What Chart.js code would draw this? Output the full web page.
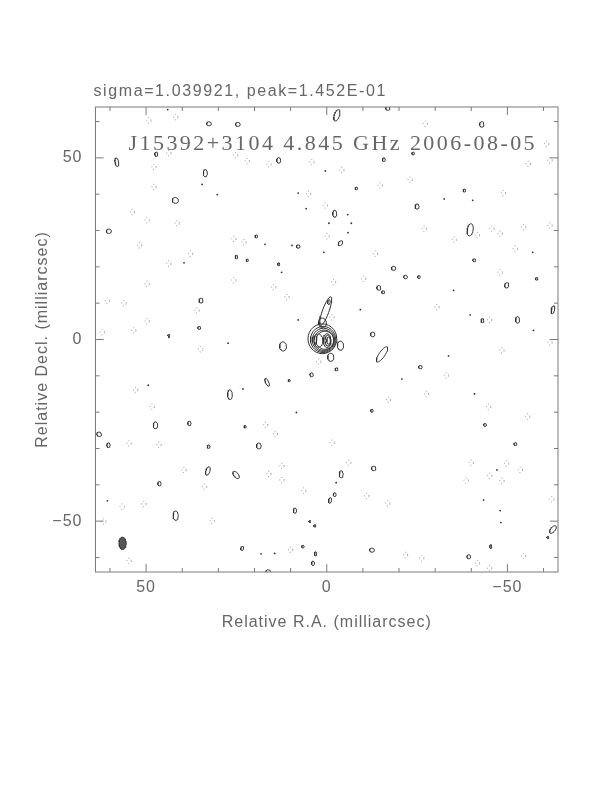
<!DOCTYPE html>
<html>
<head>
<meta charset="utf-8">
<script src="https://cdn.jsdelivr.net/npm/chart.js@4/dist/chart.umd.min.js"></script>
<style>
html,body{margin:0;padding:0;background:#fff;}
#c{display:block;}
</style>
</head>
<body>
<canvas id="c" width="612" height="792"></canvas>
<script>
// ---------- DATA (relative R.A., relative Decl. in milliarcsec) ----------
const headerText = 'sigma=1.039921, peak=1.452E-01';
const titleText = 'J15392+3104 4.845 GHz 2006-08-05';
const xTitle = 'Relative R.A. (milliarcsec)';
const yTitle = 'Relative Decl. (milliarcsec)';
const xTickLabels = [50, 0, -50];
const yTickLabels = [50, 0, -50];
const minorTicks = [-60, -50, -40, -30, -20, -10, 0, 10, 20, 30, 40, 50, 60];
const axisRange = [-64, 64];

// core + jet contours [ra, dec, width, height, tilt]
const coreContours = [
  [1.2, 0.2, 8.0, 8.2, 0],
  [1.0, 0.0, 7.0, 7.2, 0],
  [0.9, -0.1, 6.2, 6.4, 0],
  [0.8, -0.2, 5.5, 5.6, 0],
  [0.5, -0.2, 4.9, 5.0, 0],
  [2.3, -0.3, 2.5, 3.6, 0],
  [-0.1, -0.3, 2.2, 3.8, 0],
  [-0.3, -0.3, 1.6, 3.0, 0],
  [-0.5, -0.3, 1.0, 2.0, 0],
  [1.2, 4.6, 2.2, 2.6, 0],
  [0.3, 7.8, 1.8, 8.4, 20],
  [-0.6, 10.3, 0.7, 1.3, 10],
  [-1.1, -4.9, 1.7, 2.2, 0],
  [-3.8, -1.7, 1.7, 2.5, 0]
];

// positive noise contours [ra, dec, width, height, tilt]
const posContours = [
  [32.6,59.4,1.3,1.1,0],[24.6,59.2,1.3,1.1,0],[47.2,51.0,0.8,1.2,0],[58.1,48.8,1.0,2.4,-10],
  [33.6,45.8,1.1,2.0,0],[41.9,38.3,1.7,1.6,0],[60.3,29.8,1.4,1.2,0],[25.0,22.7,0.7,1.0,0],
  [22.0,21.8,0.6,0.7,0],[34.8,10.7,1.1,1.3,0],[35.3,3.2,0.8,0.8,0],[43.7,1.1,0.6,0.6,0],
  [-2.8,61.7,1.4,3.3,20],[-16.9,63.6,1.2,1.0,0],[13.3,49.3,1.1,1.5,0],[-15.8,49.5,0.8,1.0,0],
  [-8.2,41.6,0.7,0.7,0],[-2.2,34.6,1.1,1.9,0],[19.5,28.4,0.7,0.8,0],[7.9,25.6,1.0,0.9,0],
  [-3.8,26.5,1.0,1.5,40],[13.3,20.7,0.6,0.8,0],[-18.5,19.6,1.2,1.1,0],[-21.8,17.2,1.0,1.0,0],
  [-14.4,14.2,1.1,1.3,0],[-15.6,13.0,0.8,0.8,0],[-12.7,1.4,1.2,1.3,0],
  [-42.9,59.2,1.2,1.5,0],[-23.9,51.2,0.7,0.8,0],[-38.1,41.0,0.7,0.8,0],[-25.0,36.6,1.1,1.4,0],
  [-39.7,30.2,1.6,3.4,10],[-40.8,21.8,0.8,0.8,0],[-25.5,17.2,0.7,0.8,0],[-58.1,16.7,0.7,0.7,0],
  [-49.8,14.9,1.1,1.5,20],[-62.6,8.2,0.9,2.2,15],[-43.1,5.2,0.8,1.1,0],[-52.8,5.4,1.1,1.8,0],
  [26.8,-15.2,1.3,2.7,0],[47.4,-23.6,1.2,1.9,0],[38.0,-23.1,0.9,1.2,0],[63.0,-26.1,1.3,1.2,45],
  [60.4,-29.1,0.9,1.3,0],[32.7,-29.5,0.8,0.9,0],[22.6,-24.0,0.6,0.7,0],[32.9,-36.2,1.1,2.4,20],
  [25.1,-37.3,1.3,2.3,-40],[46.3,-39.7,0.9,1.2,0],[41.8,-48.5,1.4,2.6,0],[23.4,-57.5,0.8,1.1,20],
  [12.1,-1.9,1.9,2.5,0],[-15.3,-4.1,1.6,5.0,35],[4.2,-9.7,0.9,1.1,0],[-2.7,-8.2,0.8,0.8,0],
  [16.5,-11.8,0.9,2.3,-25],[10.4,-11.3,0.6,0.6,0],[-12.5,-19.6,0.7,0.8,0],[18.8,-29.3,1.3,1.6,0],
  [-13.0,-35.5,1.2,1.2,0],[-4.0,-37.1,1.1,1.9,0],[-0.9,-44.3,0.8,1.5,10],[-2.2,-42.7,0.8,1.0,0],
  [8.8,-47.1,0.9,1.4,0],[4.7,-50.1,0.5,0.6,0],[3.3,-51.3,0.6,0.6,0],[6.6,-57.0,0.7,0.7,0],
  [3.1,-59.0,0.6,1.1,0],[-12.5,-58.0,1.3,1.1,0],[3.8,-61.6,0.8,1.2,0],[16.2,-63.9,1.3,1.0,0],
  [-25.9,-7.6,1.0,0.9,0],[-43.8,-23.5,0.8,0.8,0],[-52.2,-28.8,0.8,0.8,0],[-62.6,-52.3,1.2,2.5,40],
  [-61.2,-54.5,0.6,0.6,0],[-45.4,-57.0,0.6,1.0,0],[-39.3,-59.8,1.0,1.1,0]
];

// single-pixel positive peaks [ra, dec]
const posSpots = [
  [44.0,63.3],[34.5,42.7],[30.3,39.9],[39.5,21.1],
  [0.4,46.4],[7.9,40.3],[5.7,36.0],[-0.6,32.0],[-5.8,34.4],[-6.8,32.0],[-5.9,29.4],[17.1,26.2],
  [9.6,25.9],[0.8,24.0],[12.5,18.5],[-9.3,8.2],[7.9,5.4],
  [-32.5,38.7],[-40.4,38.3],[-57.0,24.0],[-35.1,13.5],[-39.7,6.8],[-57.2,2.5],
  [43.7,0.6],[27.3,-1.0],[49.4,-12.6],[23.2,-13.6],[60.7,-44.4],
  [8.4,-20.1],[-2.6,-39.4],[14.4,-58.9],[18.2,-59.0],[-20.8,-10.9],
  [-33.7,-4.5],[-40.9,-15.0],[-48.0,-47.1],[-48.2,-50.4],[-43.4,-44.2],[-47.1,-35.9]
];

// negative (dotted) contours [ra, dec]
const negContours = [
  [49.2,60.3],[41.8,61.2],[43.7,51.3],[47.8,47.5],[47.8,42.0],[25.2,50.7],[22.0,49.1],
  [53.8,35.1],[49.7,32.8],[41.4,32.0],[25.7,27.7],[22.9,26.8],[51.8,25.9],[37.7,23.6],
  [43.7,20.9],[49.7,15.3],[25.7,16.3],[60.7,10.7],[56.1,10.0],[35.9,8.0],[49.7,5.0],
  [53.4,2.5],[62.1,2.0],
  [4.1,48.8],[-4.2,46.6],[5.0,40.1],[0.4,36.9],[-0.1,28.4],[-14.8,42.4],[-13.5,23.6],
  [-1.9,15.8],[-10.2,16.7],[14.7,14.4],[11.0,11.7],[-1.5,6.1],[16.0,48.2],
  [-45.7,30.5],[-48.0,29.1],[-61.8,31.4],[-54.5,30.9],[-35.3,27.5],[-41.7,28.7],[-27.0,30.5],
  [-52.2,25.0],[-48.0,18.5],[-30.5,8.9],[-45.1,5.4],[-23.1,44.0],[-48.9,40.3],[-55.8,48.4],
  [-61.8,49.3],[-60.9,53.9],[-27.3,59.4],
  [34.9,-2.7],[52.9,-13.9],[48.3,-18.5],[54.7,-28.6],[46.4,-29.0],[39.5,-35.9],[33.8,-40.5],
  [56.6,-46.0],[50.6,-45.3],[61.7,-50.1],[31.7,-49.9],[54.7,-60.9],
  [-17.1,-16.6],[16.9,-23.5],[14.2,-26.0],[-1.5,-28.4],[-6.1,-33.9],[12.4,-34.8],[12.4,-38.7],
  [16.0,-37.0],[6.4,-41.6],[-11.1,-43.1],[-16.9,-45.1],[10.0,-57.9],[-21.8,-59.3],[2.2,-6.1],
  [-48.5,-3.0],[-61.8,-0.8],[-33.1,-9.9],[-27.6,-15.0],[-44.8,-18.5],[-55.6,-21.2],[-40.0,-33.9],
  [-49.8,-34.1],[-53.6,-35.9],[-45.1,-37.5],[-38.6,-38.8],[-48.5,-38.9],[-62.3,-44.0],
  [-26.3,-60.2],[-41.7,-61.6],[-54.5,-59.6],[-45.1,-63.0]
];
const negSize = [1.2, 1.5];

// restoring beam [ra, dec, width, height, tilt]
const beam = [56.5, -56.1, 2.0, 3.4, 0];

// ---------- build outlines ----------
function outline(b, n) {
  const [ra, dec, w, h, ang] = b;
  const t = (ang || 0) * Math.PI / 180;
  const pts = [];
  for (let i = 0; i <= n; i++) {
    const a = 2 * Math.PI * i / n;
    const x0 = (w / 2) * Math.cos(a), y0 = (h / 2) * Math.sin(a);
    const sx = x0 * Math.cos(t) + y0 * Math.sin(t);
    const sy = -x0 * Math.sin(t) + y0 * Math.cos(t);
    pts.push({x: ra - sx, y: dec + sy});
  }
  return pts;
}
function joinOutlines(list, n) {
  const out = [];
  list.forEach(b => { out.push(...outline(b, n)); out.push({x: b[0], y: null}); });
  return out;
}
const solidData = joinOutlines(posContours.concat(coreContours), 28);
const negData = joinOutlines(negContours.map(p => [p[0], p[1], negSize[0], negSize[1], 0]), 16);
const spotData = posSpots.map(p => ({x: p[0], y: p[1]}));
const beamData = outline(beam, 32);

const FONT = "'Liberation Sans', Arial, sans-serif";
const TXT = '#666';

function fitText(ctx, text, x, y, target, font) {
  ctx.save();
  ctx.font = font;
  ctx.letterSpacing = '0px';
  const w = ctx.measureText(text).width;
  const ls = (target - w) / (text.length - 1);
  try { ctx.letterSpacing = ls.toFixed(2) + 'px'; } catch (e) {}
  ctx.fillStyle = TXT;
  ctx.textAlign = 'left';
  ctx.textBaseline = 'alphabetic';
  ctx.fillText(text, x, y);
  ctx.restore();
}

const spacingPlugin = {
  id: 'spacing',
  beforeInit(chart) { try { chart.ctx.letterSpacing = '1px'; } catch (e) {} },
  beforeDraw(chart) { try { chart.ctx.letterSpacing = '1px'; } catch (e) {} }
};

const framePlugin = {
  id: 'frame',
  afterDraw(chart) {
    const {ctx, chartArea: a, scales: {x, y}} = chart;
    ctx.save();
    ctx.strokeStyle = '#7a7a7a';
    ctx.lineWidth = 1;
    ctx.strokeRect(a.left, a.top, a.right - a.left, a.bottom - a.top);
    ctx.beginPath();
    minorTicks.forEach(v => {
      const len = (v % 50 === 0) ? 8 : 4;
      const px = x.getPixelForValue(v);
      ctx.moveTo(px, a.bottom); ctx.lineTo(px, a.bottom - len);
      ctx.moveTo(px, a.top); ctx.lineTo(px, a.top + len);
      const py = y.getPixelForValue(v);
      ctx.moveTo(a.left, py); ctx.lineTo(a.left + len, py);
      ctx.moveTo(a.right, py); ctx.lineTo(a.right - len, py);
    });
    ctx.stroke();
    ctx.restore();
    fitText(ctx, headerText, 93.5, 95.5, 292, "16px " + FONT);
    fitText(ctx, titleText, 128.5, 150, 406, "22px 'Liberation Serif', 'Times New Roman', serif");
  }
};

new Chart(document.getElementById('c'), {
  type: 'scatter',
  data: {
    datasets: [
      {label: 'beam', data: beamData, showLine: true, fill: 'shape', backgroundColor: '#555',
       borderColor: '#333', borderWidth: 1, pointRadius: 0, tension: 0},
      {label: 'negative', data: negData, showLine: true, spanGaps: false, borderColor: '#999',
       borderWidth: 1, borderDash: [1, 2.5], pointRadius: 0, tension: 0, fill: false},
      {label: 'positive', data: solidData, showLine: true, spanGaps: false, borderColor: '#333',
       borderWidth: 1, pointRadius: 0, tension: 0, fill: false},
      {label: 'peaks', data: spotData, showLine: false, pointRadius: 0.9, pointBorderWidth: 0,
       pointBackgroundColor: '#333'}
    ]
  },
  options: {
    responsive: false,
    animation: false,
    events: [],
    layout: {padding: {left: 0, top: 107, right: 54, bottom: 160}},
    plugins: {legend: {display: false}, tooltip: {enabled: false}},
    scales: {
      x: {
        type: 'linear', min: axisRange[0], max: axisRange[1], reverse: true,
        grid: {display: false, drawTicks: false}, border: {display: false},
        afterBuildTicks: s => { s.ticks = xTickLabels.map(v => ({value: v})); },
        afterFit: s => { s.height = 60; },
        ticks: {padding: 6, color: TXT, font: {family: FONT, size: 16}, maxRotation: 0,
                autoSkip: false, callback: v => (v < 0 ? '\u2212' + Math.abs(v) : String(v))},
        title: {display: true, text: xTitle, color: TXT, font: {family: FONT, size: 16},
                padding: {top: 15, bottom: 0}}
      },
      y: {
        type: 'linear', min: axisRange[0], max: axisRange[1],
        grid: {display: false, drawTicks: false}, border: {display: false},
        afterBuildTicks: s => { s.ticks = yTickLabels.map(v => ({value: v})); },
        afterFit: s => { s.width = 95.5; },
        ticks: {padding: 13, color: TXT, font: {family: FONT, size: 16}, autoSkip: false,
                callback: v => (v < 0 ? '\u2212' + Math.abs(v) : String(v))},
        title: {display: true, text: yTitle, color: TXT, font: {family: FONT, size: 16},
                padding: {top: 33, bottom: 0}}
      }
    }
  },
  plugins: [spacingPlugin, framePlugin]
});
</script>
</body>
</html>
